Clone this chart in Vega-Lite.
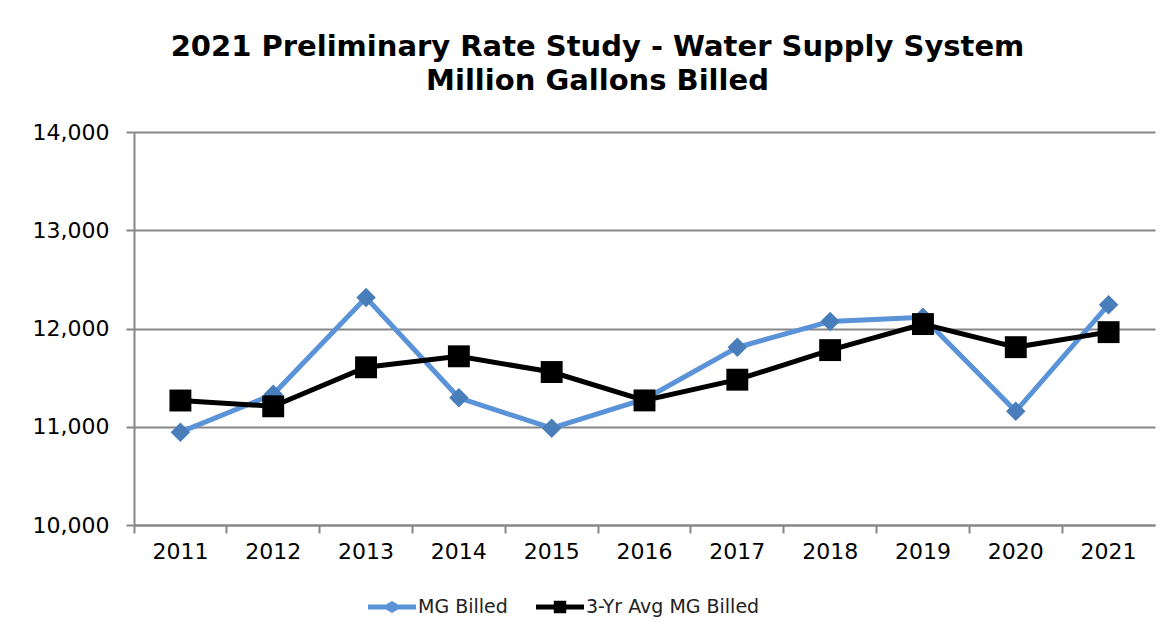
{
  "$schema": "https://vega.github.io/schema/vega-lite/v6.json",
  "width": 1021,
  "height": 393,
  "autosize": {"type": "pad"},
  "padding": {"left": 32, "top": 33, "right": 10, "bottom": 10},
  "background": "white",
  "config": {
    "font": "DejaVu Sans",
    "view": {"stroke": null}
  },
  "title": {
    "text": ["2021 Preliminary Rate Study - Water Supply System", "Million Gallons Billed"],
    "font": "DejaVu Sans",
    "fontSize": 29,
    "fontWeight": "bold",
    "color": "#000000",
    "lineHeight": 34,
    "anchor": "middle",
    "dx": -47,
    "offset": 25
  },
  "data": {
    "values": [
      {"year": "2011", "series": "MG Billed", "value": 10945},
      {"year": "2012", "series": "MG Billed", "value": 11330},
      {"year": "2013", "series": "MG Billed", "value": 12315},
      {"year": "2014", "series": "MG Billed", "value": 11295},
      {"year": "2015", "series": "MG Billed", "value": 10985},
      {"year": "2016", "series": "MG Billed", "value": 11280},
      {"year": "2017", "series": "MG Billed", "value": 11808},
      {"year": "2018", "series": "MG Billed", "value": 12072},
      {"year": "2019", "series": "MG Billed", "value": 12115},
      {"year": "2020", "series": "MG Billed", "value": 11157},
      {"year": "2021", "series": "MG Billed", "value": 12242},
      {"year": "2011", "series": "3-Yr Avg MG Billed", "value": 11267},
      {"year": "2012", "series": "3-Yr Avg MG Billed", "value": 11208},
      {"year": "2013", "series": "3-Yr Avg MG Billed", "value": 11605},
      {"year": "2014", "series": "3-Yr Avg MG Billed", "value": 11717},
      {"year": "2015", "series": "3-Yr Avg MG Billed", "value": 11557},
      {"year": "2016", "series": "3-Yr Avg MG Billed", "value": 11268},
      {"year": "2017", "series": "3-Yr Avg MG Billed", "value": 11479},
      {"year": "2018", "series": "3-Yr Avg MG Billed", "value": 11780},
      {"year": "2019", "series": "3-Yr Avg MG Billed", "value": 12045},
      {"year": "2020", "series": "3-Yr Avg MG Billed", "value": 11810},
      {"year": "2021", "series": "3-Yr Avg MG Billed", "value": 11963}
    ]
  },
  "encoding": {
    "x": {
      "field": "year",
      "type": "ordinal",
      "bandPosition": 0.5,
      "scale": {"type": "band", "paddingInner": 0, "paddingOuter": 0},
      "axis": {
        "title": null,
        "labelAngle": 0,
        "bandPosition": 0,
        "labelFont": "DejaVu Sans",
        "labelFontSize": 22,
        "labelColor": "#000000",
        "labelPadding": 8,
        "tickSize": 8,
        "tickWidth": 2,
        "tickColor": "#878787",
        "domainColor": "#878787",
        "domainWidth": 2,
        "grid": false
      }
    },
    "y": {
      "field": "value",
      "type": "quantitative",
      "scale": {"domain": [10000, 14000], "nice": false, "zero": false},
      "axis": {
        "title": null,
        "values": [10000, 11000, 12000, 13000, 14000],
        "format": ",.0f",
        "labelFont": "DejaVu Sans",
        "labelFontSize": 22,
        "labelColor": "#000000",
        "labelPadding": 17,
        "tickSize": 8,
        "tickWidth": 2,
        "tickColor": "#878787",
        "domainColor": "#878787",
        "domainWidth": 2,
        "grid": true,
        "gridColor": "#878787",
        "gridWidth": 2
      }
    }
  },
  "layer": [
    {
      "mark": {"type": "line", "strokeWidth": 5},
      "encoding": {
        "color": {
          "field": "series",
          "type": "nominal",
          "sort": ["MG Billed", "3-Yr Avg MG Billed"],
          "scale": {"domain": ["MG Billed", "3-Yr Avg MG Billed"], "range": ["#5B93D9", "#000000"]},
          "legend": {
            "title": null,
            "orient": "none",
            "direction": "horizontal",
            "legendX": 234,
            "legendY": 451,
            "symbolSize": 2304,
            "symbolType": "square",
            "labelFont": "DejaVu Sans",
            "labelFontSize": 19,
            "labelColor": "#222222",
            "labelOffset": 2,
            "labelLimit": 400,
            "columnPadding": 28,
            "encode": {
              "symbols": {
                "update": {
                  "shape": {"signal": "datum.value === 'MG Billed' ? 'M-1,-0.1H-0.25L0,-0.25L0.25,-0.1H1V0.1H0.25L0,0.25L-0.25,0.1H-1Z' : 'M-1,-0.1H-0.26V-0.26H0.26V-0.1H1V0.1H0.26V0.26H-0.26V0.1H-1Z'"},
                  "fill": {"signal": "datum.value === 'MG Billed' ? '#5B93D9' : '#000000'"},
                  "fillOpacity": {"value": 1},
                  "strokeWidth": {"value": 0}
                }
              }
            }
          }
        }
      }
    },
    {
      "transform": [{"filter": "datum.series === 'MG Billed'"}],
      "mark": {"type": "point", "shape": "diamond", "filled": true, "size": 380, "color": "#4A7EBB", "opacity": 1}
    },
    {
      "transform": [{"filter": "datum.series === '3-Yr Avg MG Billed'"}],
      "mark": {"type": "point", "shape": "square", "filled": true, "size": 480, "color": "#000000", "opacity": 1}
    }
  ]
}
